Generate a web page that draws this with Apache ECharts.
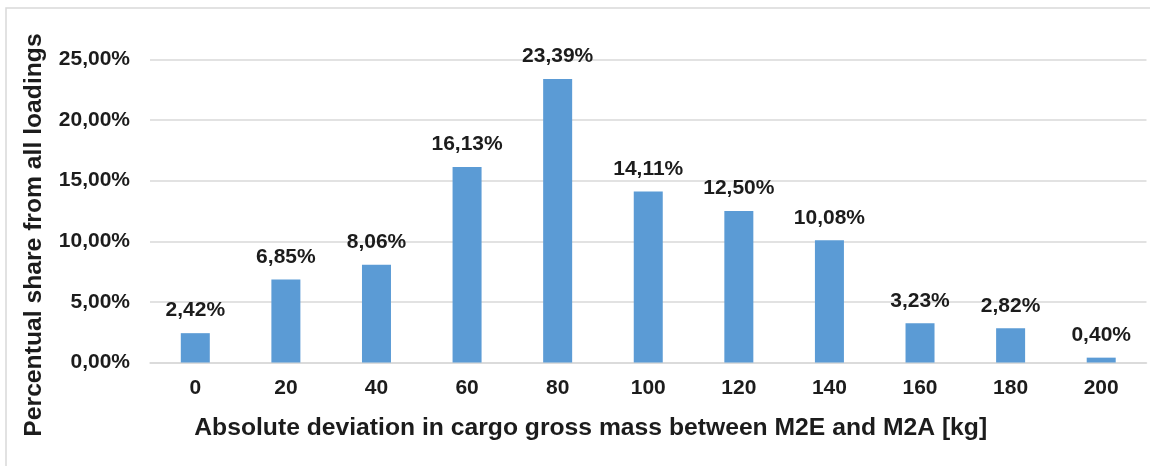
<!DOCTYPE html>
<html>
<head>
<meta charset="utf-8">
<title>Absolute deviation in cargo gross mass</title>
<script src="https://cdn.jsdelivr.net/npm/echarts@6/dist/echarts.min.js"></script>
<style>
  html, body { margin: 0; padding: 0; background: #ffffff; }
  #chart { width: 1150px; height: 466px; }
</style>
</head>
<body>
<div id="chart"></div>
<script>
// Deviation classes in kg and the share of loadings (in percent) for each class
const deviationClasses = ['0', '20', '40', '60', '80', '100', '120', '140', '160', '180', '200'];
const shareOfLoadings = [2.42, 6.85, 8.06, 16.13, 23.39, 14.11, 12.50, 10.08, 3.23, 2.82, 0.40];

const xTitle = 'Absolute deviation in cargo gross mass between M2E and M2A [kg]';
const yTitle = 'Percentual share from all loadings';

const labelFont = '"Liberation Sans", Arial, sans-serif';
const labelSize = 21;
const titleFont = 'bold 24.7px "Liberation Sans", Arial, sans-serif';
const inkColor = '#1c1c1c';
const gridColor = '#d9d9d9';

// Percent with a decimal comma, e.g. 12,50%
const pct = v => v.toFixed(2).replace('.', ',') + '%';

const chart = echarts.init(document.getElementById('chart'), null, { renderer: 'canvas' });

chart.setOption({
  animation: false,
  backgroundColor: '#ffffff',
  grid: { left: 150, right: 3.5, top: 59.5, bottom: 103.5, containLabel: false },
  xAxis: {
    type: 'category',
    data: deviationClasses,
    axisLine: { show: true, lineStyle: { color: gridColor, width: 1.5 } },
    axisTick: { show: false },
    axisLabel: {
      margin: 15,
      fontFamily: labelFont,
      fontWeight: 'bold',
      fontSize: labelSize,
      color: inkColor
    }
  },
  yAxis: {
    type: 'value',
    min: 0,
    max: 25,
    interval: 5,
    axisLine: { show: false },
    axisTick: { show: false },
    splitLine: { show: true, lineStyle: { color: gridColor, width: 1.5 } },
    axisLabel: {
      margin: 20,
      fontFamily: labelFont,
      fontWeight: 'bold',
      fontSize: labelSize,
      color: inkColor,
      formatter: v => pct(v)
    }
  },
  series: [{
    type: 'bar',
    data: shareOfLoadings,
    barWidth: 29,
    itemStyle: { color: '#5b9bd5' },
    label: {
      show: true,
      position: 'top',
      distance: 12,
      fontFamily: labelFont,
      fontWeight: 'bold',
      fontSize: labelSize,
      color: inkColor,
      formatter: p => pct(p.value)
    }
  }],
  graphic: [
    {
      type: 'rect',
      silent: true,
      shape: { x: 6, y: 8, width: 1300, height: 1000 },
      style: { fill: 'none', stroke: gridColor, lineWidth: 1.5 },
      z: -1
    },
    {
      type: 'text',
      x: 590.7,
      y: 428.5,
      style: {
        text: xTitle,
        font: titleFont,
        fill: inkColor,
        textAlign: 'center',
        textVerticalAlign: 'middle',
        align: 'center',
        verticalAlign: 'middle'
      }
    },
    {
      type: 'text',
      x: 34,
      y: 235,
      rotation: Math.PI / 2,
      style: {
        text: yTitle,
        font: titleFont,
        fill: inkColor,
        textAlign: 'center',
        textVerticalAlign: 'middle',
        align: 'center',
        verticalAlign: 'middle'
      }
    }
  ]
});
</script>
</body>
</html>
